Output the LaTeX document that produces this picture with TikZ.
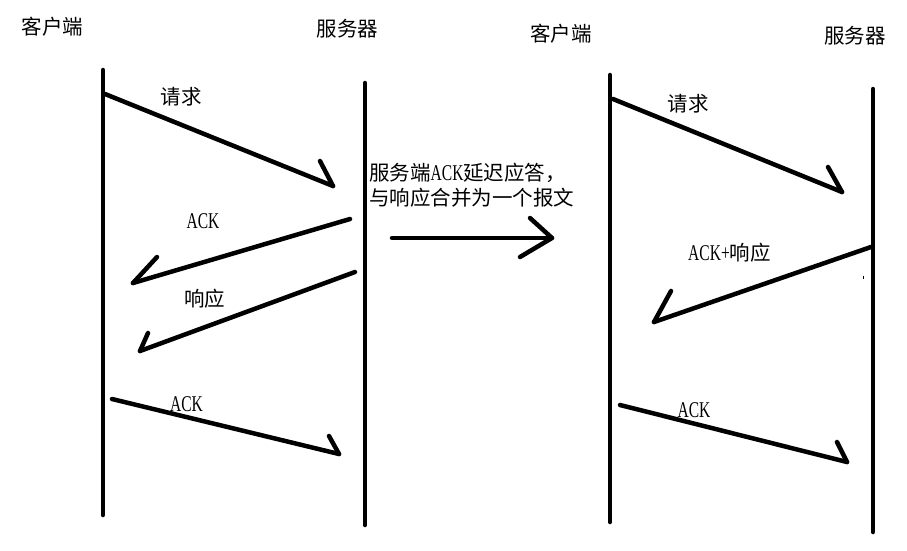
\documentclass[tikz,border=0pt]{standalone}
\usepackage{fontspec}
\setmainfont{Noto Sans CJK SC}
\newfontfamily\latn[FakeStretch=0.69]{Liberation Serif}
\begin{document}
\begin{tikzpicture}[x=1pt,y=-1pt,
  lifeline/.style={line width=4.5pt,line cap=round},
  msg/.style={line width=4.5pt,line cap=round,line join=round},
  cjklabel/.style={inner sep=0pt,font=\fontsize{20.5}{24}\selectfont},
  latlabel/.style={inner sep=0pt,font=\fontsize{22.5}{26}\selectfont\latn}]
\useasboundingbox (0,0) rectangle (907,550);
% lifelines
\coordinate (c1t) at (103,70);  \coordinate (c1b) at (103,515);
\coordinate (s1t) at (365,83);  \coordinate (s1b) at (365,525);
\coordinate (c2t) at (610,75);  \coordinate (c2b) at (610,522);
\coordinate (s2t) at (873,89);  \coordinate (s2b) at (873,532);
\draw[lifeline] (c1t) -- (c1b);
\draw[lifeline] (s1t) -- (s1b);
\draw[lifeline] (c2t) -- (c2b);
\draw[lifeline] (s2t) -- (s2b);
% headers
\node[cjklabel] (h1) at (52.5,27) {客户端};
\node[cjklabel] (h2) at (347.5,28.5) {服务器};
\node[cjklabel] (h3) at (561,34) {客户端};
\node[cjklabel] (h4) at (855,35.5) {服务器};
% left messages
\coordinate (r1a) at (105,94);  \coordinate (r1t) at (333,186); \coordinate (r1b) at (320,161);
\draw[msg] (r1a) -- (r1t); \draw[msg] (r1b) -- (r1t);
\node[cjklabel] (lr1) at (181,97) {请求};
\coordinate (a1a) at (350,219); \coordinate (a1t) at (133,283); \coordinate (a1b) at (157,257);
\draw[msg] (a1a) -- (a1t); \draw[msg] (a1b) -- (a1t);
\node[latlabel] (la1) at (203,221.5) {ACK};
\coordinate (p1a) at (355,272); \coordinate (p1t) at (140,351); \coordinate (p1b) at (148,333);
\draw[msg] (p1a) -- (p1t); \draw[msg] (p1b) -- (p1t);
\node[cjklabel] (lp1) at (204.5,298.5) {响应};
\coordinate (k1a) at (112,399); \coordinate (k1t) at (339,454); \coordinate (k1b) at (329,436);
\draw[msg] (k1a) -- (k1t); \draw[msg] (k1b) -- (k1t);
\node[latlabel] (lk1) at (186.5,404.5) {ACK};
% middle
\node[cjklabel,anchor=west] (m1) at (369,172.5) {服务端{\fontsize{22.5}{26}\selectfont\latn ACK}延迟应答，};
\node[cjklabel,anchor=west] (m2) at (369,198) {与响应合并为一个报文};
\coordinate (ma) at (392,238); \coordinate (mt) at (552,238);
\coordinate (mu) at (530,218); \coordinate (ml) at (520,257);
\draw[msg] (ma) -- (mt); \draw[msg] (mu) -- (mt) -- (ml);
% right messages
\coordinate (r2a) at (613,99);  \coordinate (r2t) at (842,192); \coordinate (r2b) at (828,167);
\draw[msg] (r2a) -- (r2t); \draw[msg] (r2b) -- (r2t);
\node[cjklabel] (lr2) at (688,103.5) {请求};
\coordinate (x2a) at (871,247); \coordinate (x2t) at (654,322); \coordinate (x2b) at (671,291);
\draw[msg] (x2a) -- (x2t); \draw[msg] (x2b) -- (x2t);
\node[inner sep=0pt] (lx2) at (729.5,252.5) {{\fontsize{22.5}{26}\selectfont\latn ACK+}{\fontsize{20.5}{24}\selectfont 响应}};
\coordinate (k2a) at (620,405); \coordinate (k2t) at (847,462); \coordinate (k2b) at (837,442);
\draw[msg] (k2a) -- (k2t); \draw[msg] (k2b) -- (k2t);
\node[latlabel] (lk2) at (694,410) {ACK};
% stray mark
\coordinate (sm1) at (863,275.5); \coordinate (sm2) at (863,279);
\draw[line width=1pt] (sm1) -- (sm2);
\end{tikzpicture}
\end{document}
